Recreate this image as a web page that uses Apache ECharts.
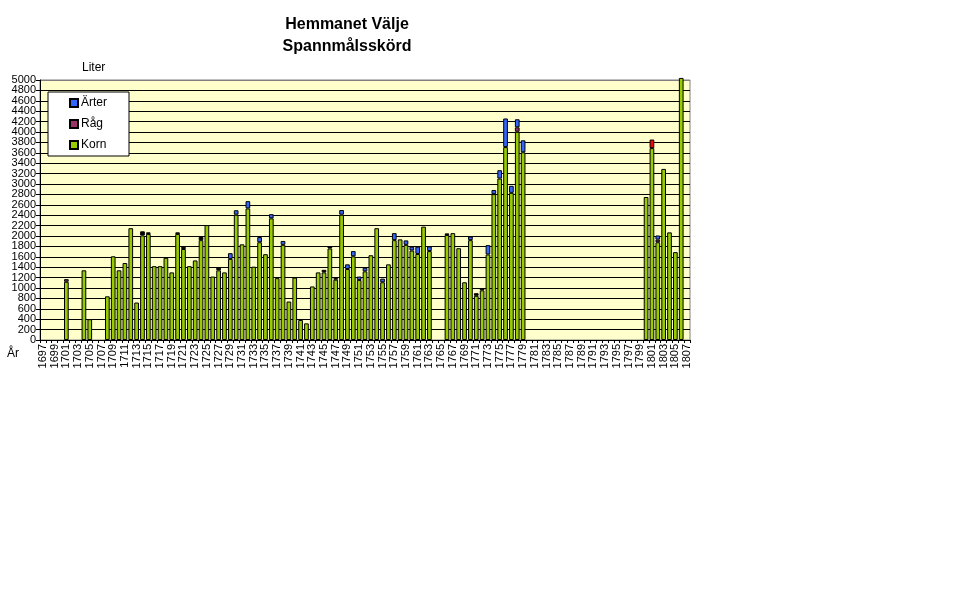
<!DOCTYPE html>
<html>
<head>
<meta charset="utf-8">
<title>Hemmanet Välje</title>
<script src="https://cdn.jsdelivr.net/npm/echarts@6/dist/echarts.min.js"></script>
<style>
  html, body { margin: 0; padding: 0; background: #fff; }
  #chart { width: 970px; height: 604px; }
</style>
</head>
<body>
<div id="chart"></div>
<script>
// år med skörd (övriga år är tomma)
var skordar = [
  1701, 1704, 1705, 1708, 1709, 1710, 1711, 1712, 1713, 1714, 1715, 1716, 1717, 1718, 1719,
  1720, 1721, 1722, 1723, 1724, 1725, 1726, 1727, 1728, 1729, 1730, 1731, 1732, 1733, 1734,
  1735, 1736, 1737, 1738, 1739, 1740, 1741, 1742, 1743, 1744, 1745, 1746, 1747, 1748, 1749,
  1750, 1751, 1752, 1753, 1754, 1755, 1756, 1757, 1758, 1759, 1760, 1761, 1762, 1763,
  1766, 1767, 1768, 1769, 1770, 1771, 1772, 1773, 1774, 1775, 1776, 1777, 1778, 1779,
  1800, 1801, 1802, 1803, 1804, 1805, 1806
]
var korn = [
  1120, 1340, 400, 840, 1610, 1340, 1480, 2150, 720, 2010, 2040, 1420, 1420, 1580, 1300,
  2040, 1750, 1420, 1530, 1920, 2210, 1220, 1340, 1300, 1560, 2410, 1840, 2530, 1410, 1880,
  1650, 2340, 1190, 1830, 740, 1200, 385, 320, 1030, 1300, 1300, 1760, 1160, 2410, 1365,
  1610, 1155, 1320, 1630, 2150, 1110, 1455, 1920, 1935, 1830, 1720, 1655, 2180, 1710,
  2020, 2055, 1765, 1110, 1920, 850, 955, 1645, 2805, 3105, 3710, 2830, 4005, 3610,
  2750, 3690, 1880, 3290, 2070, 1690, 5040
]
var rag = [
  50, 0, 0, 0, 0, 0, 0, 0, 0, 80, 30, 0, 0, 0, 0,
  30, 40, 0, 0, 60, 0, 0, 50, 0, 0, 0, 0, 0, 0, 0,
  0, 0, 0, 0, 0, 0, 0, 0, 0, 0, 50, 40, 30, 0, 0,
  0, 0, 0, 0, 0, 0, 0, 0, 0, 0, 0, 0, 0, 0,
  30, 0, 0, 0, 0, 50, 40, 0, 0, 0, 0, 0, 85, 0,
  0, 165, 50, 0, 0, 0, 0
]
var arter = [
  0, 0, 0, 0, 0, 0, 0, 0, 0, 0, 0, 0, 0, 0, 0,
  0, 0, 0, 0, 0, 0, 0, 0, 0, 110, 85, 0, 140, 0, 100,
  0, 80, 0, 75, 0, 0, 0, 0, 0, 0, 0, 0, 0, 90, 90,
  100, 65, 70, 0, 0, 70, 0, 135, 0, 85, 75, 140, 0, 90,
  0, 0, 0, 0, 70, 0, 0, 180, 80, 160, 550, 135, 155, 230,
  0, 0, 80, 0, 0, 0, 0
]
// avvikande färger på enstaka staplar
var ragFarg = {
  1714: '#000', 1715: '#000', 1720: '#000', 1721: '#000', 1724: '#000', 1727: '#000',
  1745: '#000', 1746: '#000', 1747: '#000', 1766: '#000', 1771: '#000', 1772: '#000',
  1801: '#FF0000'
}
var yTicks = ['0', '200', '400', '600', '800', '1000', '1200', '1400', '1600', '1800', '2000',
  '2200', '2400', '2600', '2800', '3000', '3200', '3400', '3600', '3800', '4000',
  '4200', '4400', '4600', '4800', '5000']

// kategorier 1697-1807
var ar = []
for (var y = 1697; y <= 1807; y++) ar.push(String(y))

function serie(values, special) {
  var out = ar.map(function () { return '-' })
  skordar.forEach(function (yr, i) {
    var v = values[i]
    if (!v) return
    var idx = ar.indexOf(String(yr))
    if (special && special[yr]) {
      out[idx] = { value: v, itemStyle: { color: special[yr] } }
    } else {
      out[idx] = v
    }
  })
  return out
}

// varannan etikett på var sin axel, så att ingen döljs
function tickLabel(odd) {
  return function (v) {
    var i = Math.round(v / 200)
    return (i % 2 === 1) === odd ? yTicks[i] : ''
  }
}

var gridLineColors = yTicks.map(function (t, i) { return i === yTicks.length - 1 ? '#808080' : '#000' })
var font = 'Arial, "Liberation Sans", sans-serif'

var chart = echarts.init(document.getElementById('chart'))

var option = {
  animation: false,
  backgroundColor: '#fff',
  textStyle: { fontFamily: font, color: '#000' },
  title: {
    text: 'Hemmanet Välje\nSpannmålsskörd',
    left: 342,
    top: 9,
    textAlign: 'center',
    textStyle: { fontSize: 16, fontWeight: 'bold', lineHeight: 22, color: '#000', fontFamily: font }
  },
  legend: {
    data: [
      { name: 'Ärter', itemStyle: { color: '#3366FF' } },
      { name: 'Råg', itemStyle: { color: '#993366' } },
      { name: 'Korn', itemStyle: { color: '#99CC00' } }
    ],
    orient: 'vertical',
    left: 48,
    top: 92,
    width: 50,
    padding: [4, 22, 4, 21],
    itemWidth: 8,
    itemHeight: 8,
    itemGap: 7,
    icon: 'rect',
    backgroundColor: '#fff',
    borderColor: '#000',
    borderWidth: 1,
    textStyle: { fontSize: 12, lineHeight: 14, color: '#000', padding: [0, 0, 0, -2] }
  },
  grid: {
    left: 40,
    right: 280,
    top: 80,
    bottom: 264,
    show: true,
    backgroundColor: '#FFFFCC',
    borderColor: '#808080',
    borderWidth: 1
  },
  graphic: [
    { type: 'text', left: 82, top: 62, style: { text: 'Liter', fontSize: 12, fill: '#000', fontFamily: font } },
    { type: 'text', left: 7, top: 348, style: { text: 'År', fontSize: 12, fill: '#000', fontFamily: font } }
  ],
  xAxis: {
    type: 'category',
    data: ar,
    axisLine: { lineStyle: { color: '#000', width: 1 } },
    axisTick: { show: true, interval: 0, length: 3, lineStyle: { color: '#000' } },
    axisLabel: { interval: 1, rotate: 90, fontSize: 11, margin: 4, color: '#000' },
    splitLine: { show: false }
  },
  yAxis: [
    {
      type: 'value',
      min: 0,
      max: 5000,
      interval: 200,
      position: 'left',
      axisLine: { show: true, lineStyle: { color: '#000', width: 1 } },
      axisTick: { show: true, length: 4, lineStyle: { color: '#000' } },
      axisLabel: {
        fontSize: 11,
        margin: 4,
        color: '#000',
        showMinLabel: true,
        formatter: tickLabel(false)
      },
      splitLine: { show: true, lineStyle: { color: gridLineColors, width: 1 } }
    },
    {
      type: 'value',
      min: 0,
      max: 5000,
      interval: 200,
      position: 'left',
      axisLine: { show: false },
      axisTick: { show: false },
      axisLabel: {
        fontSize: 11,
        margin: 4,
        color: '#000',
        showMinLabel: false,
        showMaxLabel: true,
        formatter: tickLabel(true)
      },
      splitLine: { show: false }
    }
  ],
  series: [
    {
      name: 'Korn',
      type: 'bar',
      stack: 'skord',
      barWidth: 4.7,
      clip: false,
      itemStyle: { color: '#99CC00', borderColor: '#000', borderWidth: 1 },
      data: serie(korn)
    },
    {
      name: 'Råg',
      type: 'bar',
      stack: 'skord',
      barWidth: 4.7,
      itemStyle: { color: '#993366', borderColor: '#000', borderWidth: 1 },
      data: serie(rag, ragFarg)
    },
    {
      name: 'Ärter',
      type: 'bar',
      stack: 'skord',
      barWidth: 4.7,
      itemStyle: { color: '#3366FF', borderColor: '#000', borderWidth: 1 },
      data: serie(arter)
    }
  ]
}

chart.setOption(option)
</script>
</body>
</html>
